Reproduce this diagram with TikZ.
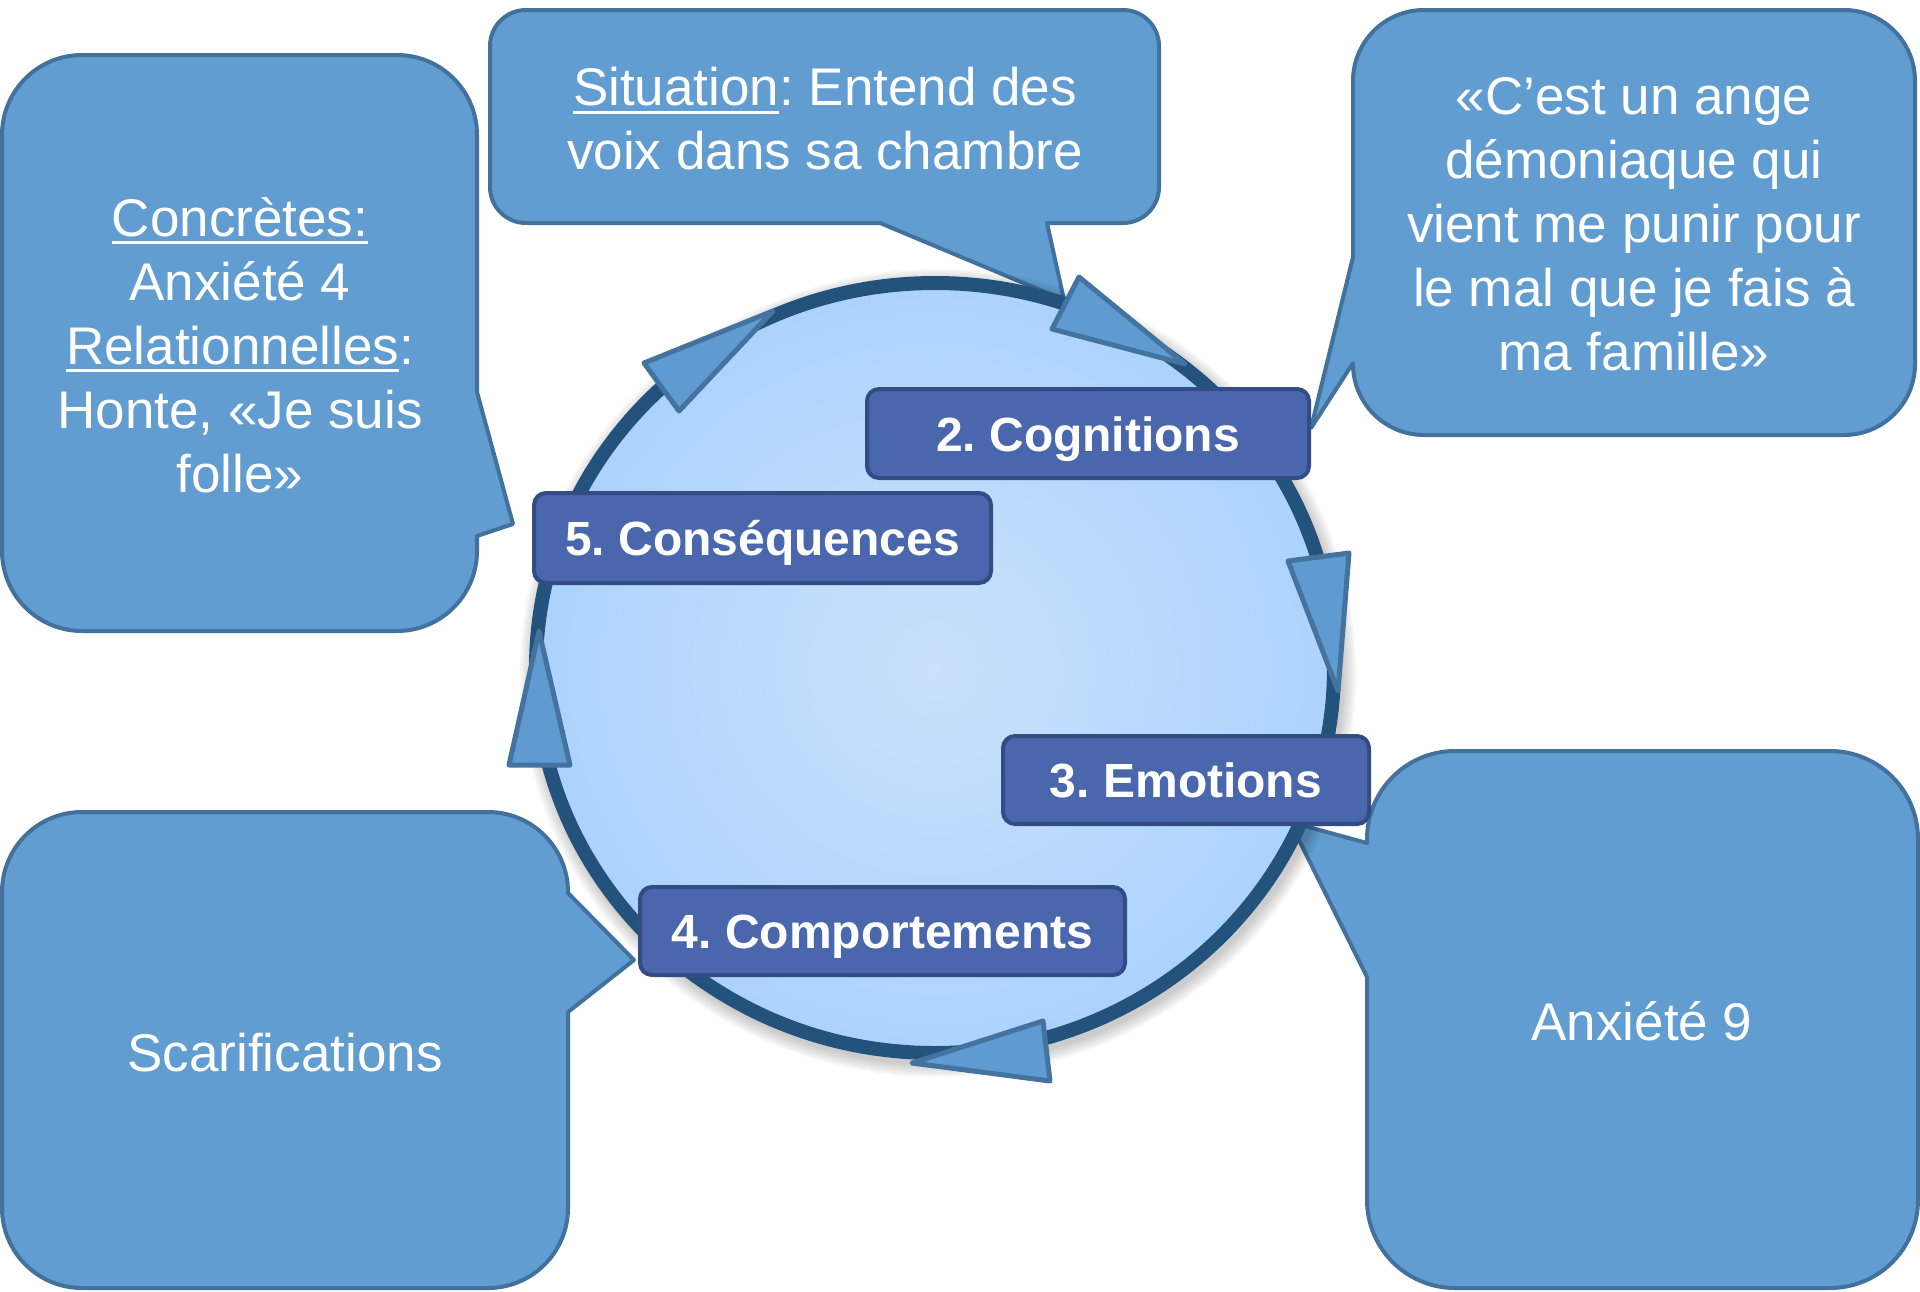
\documentclass[tikz,border=0pt]{standalone}
\usepackage{fontspec}
\setmainfont{Liberation Sans}
\definecolor{callfill}{HTML}{629DD1}
\definecolor{calldraw}{HTML}{41719C}
\definecolor{labfill}{HTML}{4A66AC}
\definecolor{labdraw}{HTML}{334C85}
\definecolor{ringdraw}{HTML}{23527C}
\definecolor{ringin}{HTML}{C9E1FB}
\definecolor{ringout}{HTML}{ACD3FD}
\definecolor{arrfill}{HTML}{5F9BD1}
\definecolor{arrdraw}{HTML}{44739F}
\newcommand\myul[1]{\setbox0\hbox{#1}\rlap{\rule[-8pt]{\wd0}{3pt}}\box0}
\frenchspacing
\begin{document}
\begin{tikzpicture}[x=1pt,y=-1pt,
  callout/.style={fill=callfill,draw=calldraw,line width=4pt,line join=round},
  calltext/.style={text=white,align=center,font=\fontsize{53}{64}\selectfont\frenchspacing,inner sep=0pt},
  stage/.style={fill=labfill,draw=labdraw,line width=4pt,rounded corners=12pt,text=white,
    font=\fontsize{48}{56}\selectfont\bfseries\frenchspacing,inner sep=0pt,
    text height=35pt,text depth=0pt},
  cyclehead/.style={fill=arrfill,draw=arrdraw,line width=5pt,line join=round}]
\useasboundingbox (0,0) rectangle (1920,1291);

% ---------- callouts ----------
% left: Concretes
\draw[callout] (82,55) -- (397,55) arc[start angle=-90,end angle=0,radius=80]
  -- (477,392) -- (513,524) -- (477,536) -- (477,551)
  arc[start angle=0,end angle=90,radius=80] -- (82,631)
  arc[start angle=90,end angle=180,radius=80] -- (2,135)
  arc[start angle=180,end angle=270,radius=80] -- cycle;
\node[calltext] (concretes) at (240,345)
  {\myul{Concrètes:}\\Anxiété 4\\\myul{Relationnelles}:\\Honte, «Je suis\\folle»};

% top: Situation
\draw[callout] (526,10) -- (1123,10) arc[start angle=-90,end angle=0,radius=36]
  -- (1159,187) arc[start angle=0,end angle=90,radius=36]
  -- (1047,223) -- (1064,300) -- (880,223) -- (526,223)
  arc[start angle=90,end angle=180,radius=36] -- (490,46)
  arc[start angle=180,end angle=270,radius=36] -- cycle;
\node[calltext] (situation) at (825,119)
  {\myul{Situation}: Entend des\\voix dans sa chambre};

% top right: quote
\draw[callout] (1424,10) -- (1844,10) arc[start angle=-90,end angle=0,radius=71]
  -- (1915,364) arc[start angle=0,end angle=90,radius=71]
  -- (1424,435) arc[start angle=90,end angle=180,radius=71]
  -- (1353,363) -- (1311,428) -- (1353,257) -- (1353,81)
  arc[start angle=180,end angle=270,radius=71] -- cycle;
\node[calltext] (quote) at (1634,224)
  {«C’est un ange\\démoniaque qui\\vient me punir pour\\le mal que je fais à\\ma famille»};

% bottom left: Scarifications
\draw[callout] (82,812) -- (488,812) arc[start angle=-90,end angle=0,radius=80]
  -- (568,893) -- (634,960) -- (568,1012) -- (568,1208)
  arc[start angle=0,end angle=90,radius=80] -- (82,1288)
  arc[start angle=90,end angle=180,radius=80] -- (2,892)
  arc[start angle=180,end angle=270,radius=80] -- cycle;
\node[calltext] (scar) at (285,1053) {Scarifications};

% bottom right: Anxiete 9
\draw[callout] (1455,751) -- (1830,751) arc[start angle=-90,end angle=0,radius=88]
  -- (1918,1200) arc[start angle=0,end angle=90,radius=88]
  -- (1455,1288) arc[start angle=90,end angle=180,radius=88]
  -- (1367,977) -- (1290,822) -- (1367,843) -- (1367,839)
  arc[start angle=180,end angle=270,radius=88] -- cycle;
\node[calltext] (anx) at (1642,1021) {Anxiété 9};

% ---------- ring ----------
\foreach \k in {1,...,7}{
  \pgfmathsetmacro\rx{404+2*\k}
  \pgfmathsetmacro\ry{390+2*\k}
  \fill[black,opacity=0.03] (938,673) ellipse[x radius=\rx, y radius=\ry];
}
\draw[line width=14pt,draw=ringdraw,inner color=ringin,outer color=ringout]
  (935,668) ellipse[x radius=399, y radius=385];

% ---------- arrow heads ----------
\draw[cyclehead] (1079,277) -- (1052,329) -- (1185,364) -- cycle;
\draw[cyclehead] (1288,561) -- (1349,553) -- (1338,691) -- cycle;
\draw[cyclehead] (1043,1021) -- (1050,1081) -- (912,1063) -- cycle;
\draw[cyclehead] (539,631) -- (509,765) -- (570,765) -- cycle;
\draw[cyclehead] (773,311) -- (644,363) -- (679,411) -- cycle;

% ---------- stage labels ----------
\node[stage,minimum width=442pt,minimum height=89pt] (cog) at (1088,433.5) {2. Cognitions};
\node[stage,minimum width=457pt,minimum height=90pt] (cons) at (762.5,538) {5. Conséquences};
\node[stage,minimum width=366pt,minimum height=88pt] (emo) at (1186,780) {3. Emotions};
\node[stage,minimum width=485pt,minimum height=88pt] (comp) at (882.5,931) {4. Comportements};
\end{tikzpicture}
\end{document}
